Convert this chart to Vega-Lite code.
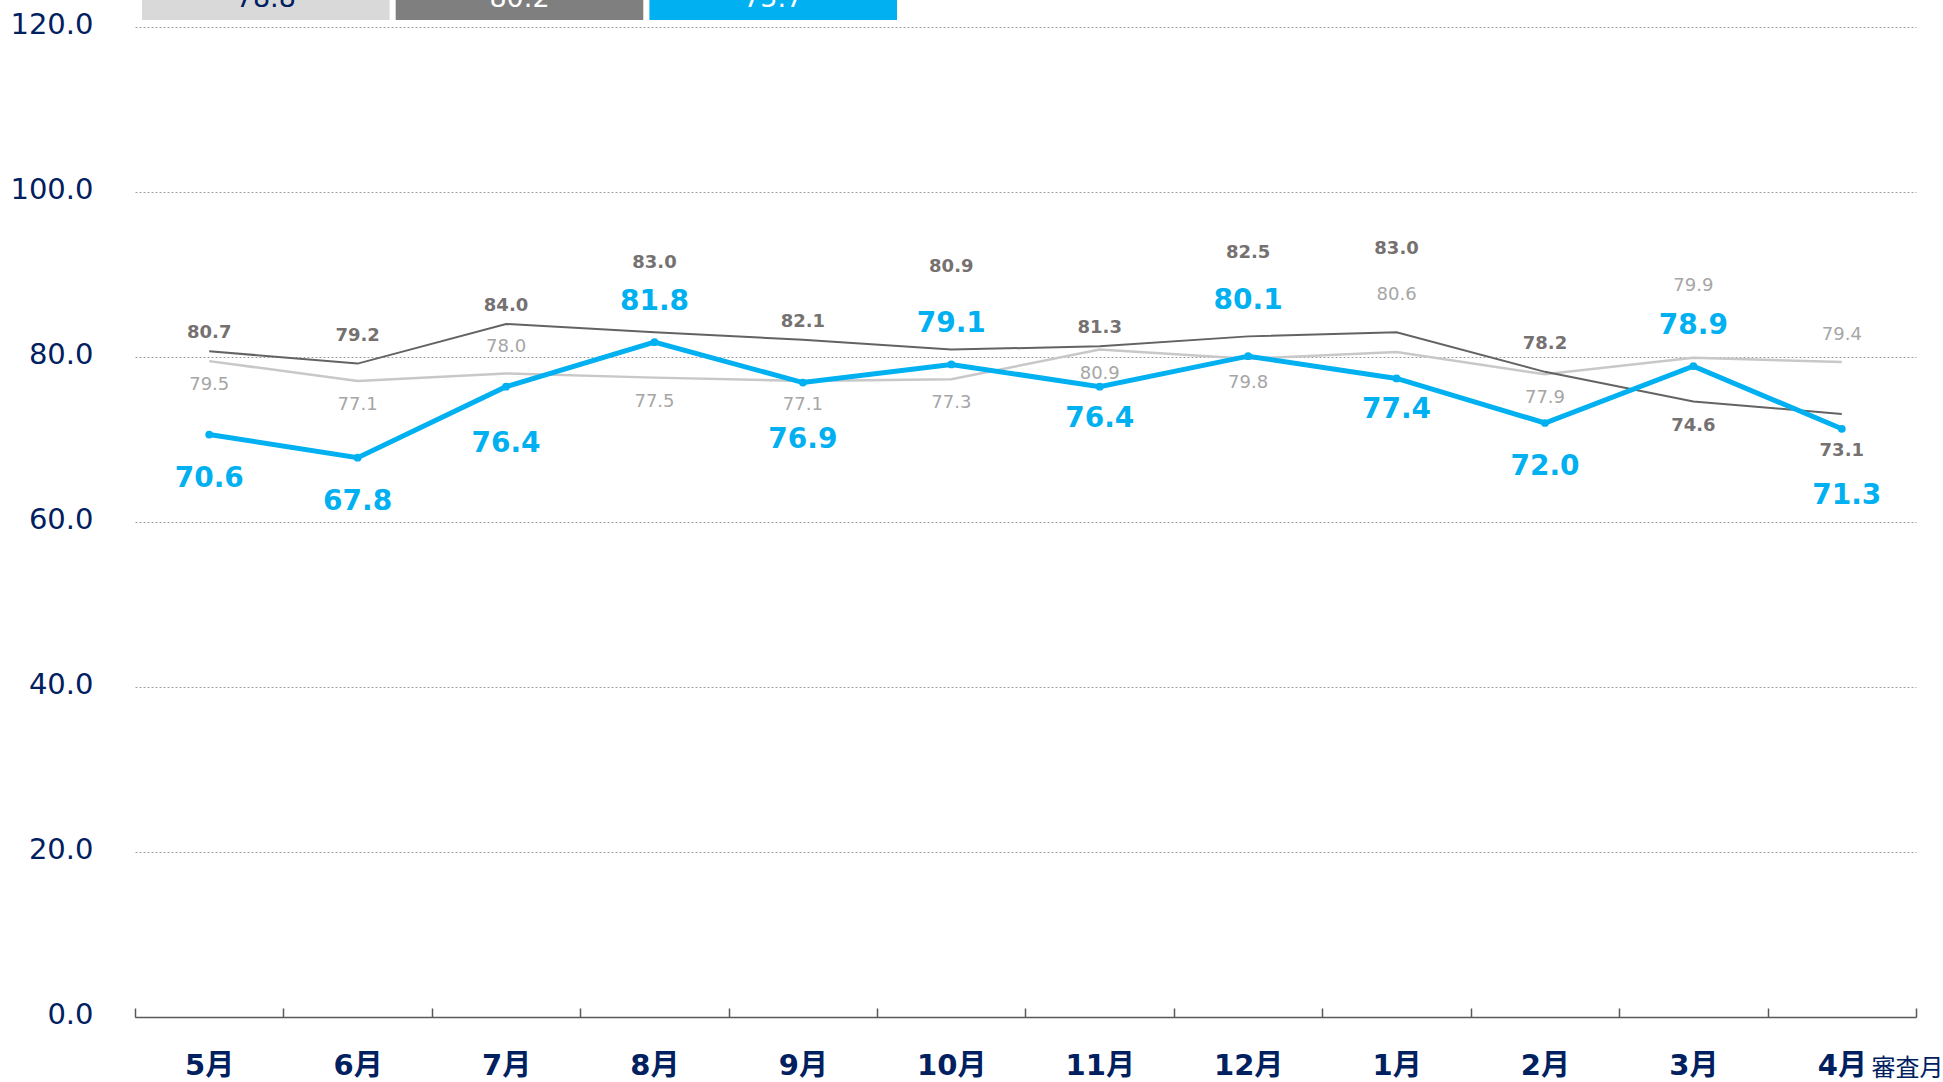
{
  "$schema": "https://vega.github.io/schema/vega-lite/v6.json",
  "width": 1781,
  "height": 990,
  "autosize": {"type": "none"},
  "padding": {"left": 135, "top": 27, "right": 27, "bottom": 65},
  "background": "white",
  "config": {
    "view": {"stroke": null},
    "font": "DejaVu Sans",
    "axisY": {
      "domain": false,
      "ticks": false,
      "labelFont": "DejaVu Sans",
      "labelFontSize": 29,
      "labelColor": "#002060",
      "labelPadding": 42,
      "labelOffset": -3,
      "gridColor": "#A0A0A0",
      "gridDash": [2, 2],
      "gridWidth": 1
    },
    "axisX": {
      "domainColor": "#595959",
      "domainWidth": 1.5,
      "tickColor": "#595959",
      "tickWidth": 1.5,
      "tickSize": -9,
      "tickBand": "extent",
      "labelFont": "DejaVu Sans, Noto Sans CJK JP",
      "labelFontSize": 29,
      "labelFontWeight": "bold",
      "labelColor": "#002060",
      "labelPadding": 43,
      "labelAngle": 0,
      "grid": false
    }
  },
  "datasets": {
    "monthly": [
      {"month": "5月", "light": 79.5, "dark": 80.7, "blue": 70.6},
      {"month": "6月", "light": 77.1, "dark": 79.2, "blue": 67.8},
      {"month": "7月", "light": 78.0, "dark": 84.0, "blue": 76.4},
      {"month": "8月", "light": 77.5, "dark": 83.0, "blue": 81.8},
      {"month": "9月", "light": 77.1, "dark": 82.1, "blue": 76.9},
      {"month": "10月", "light": 77.3, "dark": 80.9, "blue": 79.1},
      {"month": "11月", "light": 80.9, "dark": 81.3, "blue": 76.4},
      {"month": "12月", "light": 79.8, "dark": 82.5, "blue": 80.1},
      {"month": "1月", "light": 80.6, "dark": 83.0, "blue": 77.4},
      {"month": "2月", "light": 77.9, "dark": 78.2, "blue": 72.0},
      {"month": "3月", "light": 79.9, "dark": 74.6, "blue": 78.9},
      {"month": "4月", "light": 79.4, "dark": 73.1, "blue": 71.3}
    ],
    "avg": [
      {"series": "light", "avg": 78.8},
      {"series": "dark", "avg": 80.2},
      {"series": "blue", "avg": 75.7}
    ]
  },
  "layer": [
    {
      "data": {"name": "monthly"},
      "encoding": {
        "x": {
          "field": "month",
          "type": "ordinal",
          "sort": null,
          "scale": {"type": "band", "paddingInner": 0, "paddingOuter": 0},
          "axis": {
            "title": "審査月",
            "titleX": 1736,
            "titleY": 58,
            "titleAlign": "left",
            "titleBaseline": "alphabetic",
            "titleFont": "Noto Sans CJK JP",
            "titleFontWeight": "normal",
            "titleFontSize": 24,
            "titleColor": "#002060"
          }
        }
      },
      "layer": [
        {
          "mark": {"type": "line", "color": "#C8C8C8", "strokeWidth": 2.5},
          "encoding": {
            "y": {
              "field": "light",
              "type": "quantitative",
              "title": null,
              "scale": {"domain": [0, 120], "nice": false, "zero": true},
              "axis": {"values": [0, 20, 40, 60, 80, 100, 120], "format": ".1f"}
            }
          }
        },
        {
          "mark": {"type": "line", "color": "#636363", "strokeWidth": 2},
          "encoding": {"y": {"field": "dark", "type": "quantitative", "title": null}}
        },
        {
          "mark": {"type": "line", "color": "#00B0F0", "strokeWidth": 5, "point": {"filled": true, "size": 60, "color": "#00B0F0"}},
          "encoding": {"y": {"field": "blue", "type": "quantitative", "title": null}}
        },
        {
          "transform": [{"filter": "indexof(['7月','1月','3月','4月'], datum.month) < 0"}],
          "mark": {"type": "text", "font": "DejaVu Sans", "fontSize": 18, "color": "#A6A6A6", "dy": 24},
          "encoding": {"y": {"field": "light", "type": "quantitative", "title": null}, "text": {"field": "light", "format": ".1f"}}
        },
        {
          "transform": [{"filter": "indexof(['7月','4月'], datum.month) >= 0"}],
          "mark": {"type": "text", "font": "DejaVu Sans", "fontSize": 18, "color": "#A6A6A6", "dy": -27},
          "encoding": {"y": {"field": "light", "type": "quantitative", "title": null}, "text": {"field": "light", "format": ".1f"}}
        },
        {
          "transform": [{"filter": "datum.month === '1月'"}],
          "mark": {"type": "text", "font": "DejaVu Sans", "fontSize": 18, "color": "#A6A6A6", "dy": -57},
          "encoding": {"y": {"field": "light", "type": "quantitative", "title": null}, "text": {"field": "light", "format": ".1f"}}
        },
        {
          "transform": [{"filter": "datum.month === '3月'"}],
          "mark": {"type": "text", "font": "DejaVu Sans", "fontSize": 18, "color": "#A6A6A6", "dy": -72},
          "encoding": {"y": {"field": "light", "type": "quantitative", "title": null}, "text": {"field": "light", "format": ".1f"}}
        },
        {
          "transform": [{"filter": "indexof(['5月','7月','9月','11月'], datum.month) >= 0"}],
          "mark": {"type": "text", "font": "DejaVu Sans", "fontSize": 18, "fontWeight": "bold", "color": "#767171", "dy": -18},
          "encoding": {"y": {"field": "dark", "type": "quantitative", "title": null}, "text": {"field": "dark", "format": ".1f"}}
        },
        {
          "transform": [{"filter": "indexof(['6月','2月'], datum.month) >= 0"}],
          "mark": {"type": "text", "font": "DejaVu Sans", "fontSize": 18, "fontWeight": "bold", "color": "#767171", "dy": -28},
          "encoding": {"y": {"field": "dark", "type": "quantitative", "title": null}, "text": {"field": "dark", "format": ".1f"}}
        },
        {
          "transform": [{"filter": "datum.month === '8月'"}],
          "mark": {"type": "text", "font": "DejaVu Sans", "fontSize": 18, "fontWeight": "bold", "color": "#767171", "dy": -69},
          "encoding": {"y": {"field": "dark", "type": "quantitative", "title": null}, "text": {"field": "dark", "format": ".1f"}}
        },
        {
          "transform": [{"filter": "indexof(['10月','12月','1月'], datum.month) >= 0"}],
          "mark": {"type": "text", "font": "DejaVu Sans", "fontSize": 18, "fontWeight": "bold", "color": "#767171", "dy": -83},
          "encoding": {"y": {"field": "dark", "type": "quantitative", "title": null}, "text": {"field": "dark", "format": ".1f"}}
        },
        {
          "transform": [{"filter": "datum.month === '3月'"}],
          "mark": {"type": "text", "font": "DejaVu Sans", "fontSize": 18, "fontWeight": "bold", "color": "#767171", "dy": 24},
          "encoding": {"y": {"field": "dark", "type": "quantitative", "title": null}, "text": {"field": "dark", "format": ".1f"}}
        },
        {
          "transform": [{"filter": "datum.month === '4月'"}],
          "mark": {"type": "text", "font": "DejaVu Sans", "fontSize": 18, "fontWeight": "bold", "color": "#767171", "dy": 37},
          "encoding": {"y": {"field": "dark", "type": "quantitative", "title": null}, "text": {"field": "dark", "format": ".1f"}}
        },
        {
          "transform": [{"filter": "indexof(['8月','10月','3月'], datum.month) >= 0"}],
          "mark": {"type": "text", "font": "DejaVu Sans", "fontSize": 28, "fontWeight": "bold", "color": "#00B0F0", "dy": -40},
          "encoding": {"y": {"field": "blue", "type": "quantitative", "title": null}, "text": {"field": "blue", "format": ".1f"}}
        },
        {
          "transform": [{"filter": "datum.month === '12月'"}],
          "mark": {"type": "text", "font": "DejaVu Sans", "fontSize": 28, "fontWeight": "bold", "color": "#00B0F0", "dy": -55},
          "encoding": {"y": {"field": "blue", "type": "quantitative", "title": null}, "text": {"field": "blue", "format": ".1f"}}
        },
        {
          "transform": [{"filter": "indexof(['5月','6月','2月'], datum.month) >= 0"}],
          "mark": {"type": "text", "font": "DejaVu Sans", "fontSize": 28, "fontWeight": "bold", "color": "#00B0F0", "dy": 44},
          "encoding": {"y": {"field": "blue", "type": "quantitative", "title": null}, "text": {"field": "blue", "format": ".1f"}}
        },
        {
          "transform": [{"filter": "indexof(['7月','9月'], datum.month) >= 0"}],
          "mark": {"type": "text", "font": "DejaVu Sans", "fontSize": 28, "fontWeight": "bold", "color": "#00B0F0", "dy": 57},
          "encoding": {"y": {"field": "blue", "type": "quantitative", "title": null}, "text": {"field": "blue", "format": ".1f"}}
        },
        {
          "transform": [{"filter": "indexof(['11月','1月'], datum.month) >= 0"}],
          "mark": {"type": "text", "font": "DejaVu Sans", "fontSize": 28, "fontWeight": "bold", "color": "#00B0F0", "dy": 32},
          "encoding": {"y": {"field": "blue", "type": "quantitative", "title": null}, "text": {"field": "blue", "format": ".1f"}}
        },
        {
          "transform": [{"filter": "datum.month === '4月'"}],
          "mark": {"type": "text", "font": "DejaVu Sans", "fontSize": 28, "fontWeight": "bold", "color": "#00B0F0", "dy": 67, "dx": 5},
          "encoding": {"y": {"field": "blue", "type": "quantitative", "title": null}, "text": {"field": "blue", "format": ".1f"}}
        }
      ]
    },
    {
      "data": {"name": "avg"},
      "encoding": {
        "x": {
          "field": "series",
          "type": "nominal",
          "sort": ["light", "dark", "blue"],
          "scale": {"type": "band", "range": [7, 762], "paddingInner": 0.024, "paddingOuter": 0},
          "axis": null
        }
      },
      "layer": [
        {
          "mark": {"type": "rect"},
          "encoding": {
            "y": {"datum": 120.85, "type": "quantitative", "title": null},
            "y2": {"datum": 126},
            "color": {
              "field": "series",
              "type": "nominal",
              "scale": {"domain": ["light", "dark", "blue"], "range": ["#D9D9D9", "#7F7F7F", "#00B0F0"]},
              "legend": null
            }
          }
        },
        {
          "mark": {"type": "text", "font": "DejaVu Sans", "fontSize": 27, "baseline": "alphabetic"},
          "encoding": {
            "y": {"datum": 122.4, "type": "quantitative", "title": null},
            "text": {"field": "avg", "format": ".1f"},
            "color": {"condition": {"test": "datum.series === 'light'", "value": "#002060"}, "value": "#FFFFFF"}
          }
        }
      ]
    }
  ],
  "resolve": {"scale": {"x": "independent"}}
}
